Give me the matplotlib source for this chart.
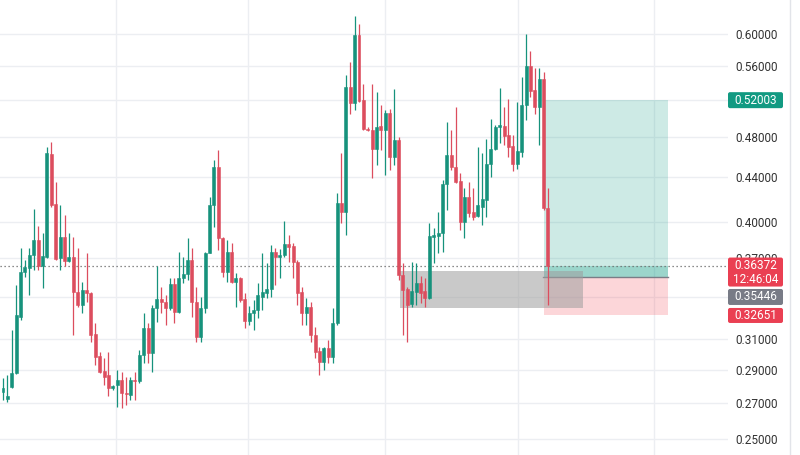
import numpy as np
import matplotlib.pyplot as plt
from matplotlib.patches import Rectangle, FancyBboxPatch
from matplotlib.lines import Line2D
from matplotlib.transforms import IdentityTransform
from matplotlib.ticker import FixedLocator, FuncFormatter, NullLocator

plt.rcParams['font.family'] = ['Roboto', 'DejaVu Sans']

# OHLC candles (oldest first)
opens = [0.2767, 0.2726, 0.2797, 0.2883, 0.3254, 0.3587, 0.3617, 0.3721, 0.3844, 0.3633,
         0.3705, 0.4629, 0.4155, 0.3697, 0.3868, 0.3673, 0.3705, 0.3435, 0.3340, 0.3450,
         0.3428, 0.3137, 0.2991, 0.2896, 0.2871, 0.2791, 0.2809, 0.2840, 0.2761, 0.2749,
         0.2840, 0.2834, 0.2998, 0.3178, 0.3011, 0.3318, 0.3383, 0.3361, 0.3318, 0.3495,
         0.3290, 0.3541, 0.3572, 0.3681, 0.3361, 0.3116, 0.3318, 0.3737, 0.4146, 0.4501,
         0.3860, 0.3587, 0.3745, 0.3510, 0.3541, 0.3383, 0.3226, 0.3282, 0.3304, 0.3398,
         0.3428, 0.3457, 0.3745, 0.3705, 0.3721, 0.3810, 0.3794, 0.3665, 0.3435, 0.3282,
         0.3326, 0.3130, 0.3024, 0.2952, 0.3043, 0.2985, 0.3212, 0.4164, 0.4084, 0.5351,
         0.5168, 0.5987, 0.5202, 0.4886, 0.4876, 0.4679, 0.4918, 0.4876, 0.5058, 0.4599,
         0.4771, 0.3564, 0.3457, 0.3347, 0.3435, 0.3502, 0.3443, 0.3391, 0.3868, 0.3877,
         0.3902, 0.4338, 0.4619, 0.4501, 0.4367, 0.3996, 0.4218, 0.4083, 0.4048, 0.4128,
         0.4191, 0.4530, 0.4679, 0.4908, 0.4918, 0.4823, 0.4710, 0.4530, 0.4649, 0.5146,
         0.5599, 0.5316, 0.5124, 0.5444, 0.4119]
highs = [0.2852, 0.2871, 0.3164, 0.3487, 0.3777, 0.3681, 0.3777, 0.4110, 0.3961, 0.3902,
         0.4700, 0.4751, 0.4357, 0.4146, 0.4057, 0.3902, 0.3868, 0.3777, 0.3510, 0.3737,
         0.3435, 0.3212, 0.3017, 0.2978, 0.3017, 0.2809, 0.2902, 0.2889, 0.2859, 0.2859,
         0.2889, 0.3030, 0.3282, 0.3212, 0.3340, 0.3633, 0.3472, 0.3413, 0.3541, 0.3541,
         0.3745, 0.3705, 0.3860, 0.3777, 0.3472, 0.3398, 0.3745, 0.4218, 0.4569, 0.4669,
         0.3868, 0.3844, 0.3819, 0.3579, 0.3549, 0.3428, 0.3333, 0.3376, 0.3502, 0.3737,
         0.3657, 0.3802, 0.3777, 0.3769, 0.4004, 0.3885, 0.3819, 0.3681, 0.3472, 0.3391,
         0.3361, 0.3184, 0.3050, 0.3050, 0.3096, 0.3318, 0.4254, 0.4639, 0.5491, 0.5648,
         0.6238, 0.6131, 0.5386, 0.4908, 0.5386, 0.5293, 0.5146, 0.5091, 0.5102, 0.5328,
         0.4802, 0.3657, 0.3472, 0.3665, 0.3657, 0.3556, 0.3541, 0.3987, 0.3945, 0.4083,
         0.4376, 0.4961, 0.4876, 0.5124, 0.4443, 0.4301, 0.4357, 0.4301, 0.4700, 0.4639,
         0.4781, 0.4993, 0.4929, 0.5339, 0.5124, 0.5213, 0.4823, 0.5180, 0.5467, 0.6000,
         0.5784, 0.5575, 0.5575, 0.5527, 0.4301]
lows = [0.2720, 0.2708, 0.2791, 0.2877, 0.3233, 0.3549, 0.3413, 0.3602, 0.3602, 0.3465,
        0.3697, 0.4128, 0.3681, 0.3602, 0.3633, 0.3665, 0.3130, 0.3326, 0.3282, 0.3361,
        0.3083, 0.2933, 0.2883, 0.2809, 0.2743, 0.2779, 0.2678, 0.2673, 0.2690, 0.2720,
        0.2720, 0.2821, 0.2946, 0.2946, 0.2889, 0.3219, 0.3282, 0.3198, 0.3304, 0.3212,
        0.3282, 0.3502, 0.3525, 0.3254, 0.3083, 0.3083, 0.3282, 0.3737, 0.3953, 0.3761,
        0.3549, 0.3510, 0.3502, 0.3326, 0.3361, 0.3178, 0.3198, 0.3164, 0.3247, 0.3304,
        0.3391, 0.3398, 0.3487, 0.3541, 0.3705, 0.3665, 0.3541, 0.3340, 0.3198, 0.3198,
        0.3083, 0.2978, 0.2871, 0.2902, 0.2946, 0.2946, 0.3198, 0.3987, 0.3885, 0.5047,
        0.5091, 0.5180, 0.4876, 0.4865, 0.4395, 0.4520, 0.4669, 0.4424, 0.4472, 0.4520,
        0.3525, 0.3130, 0.3083, 0.3326, 0.3340, 0.3354, 0.3326, 0.3383, 0.3657, 0.3737,
        0.3745, 0.4101, 0.4472, 0.4348, 0.3928, 0.3860, 0.4039, 0.4013, 0.4039, 0.3970,
        0.4039, 0.4405, 0.4669, 0.4740, 0.4720, 0.4599, 0.4462, 0.4482, 0.4599, 0.4982,
        0.5236, 0.5047, 0.4720, 0.4101, 0.3340]
closes = [0.2791, 0.2743, 0.2883, 0.3268, 0.3587, 0.3625, 0.3721, 0.3844, 0.3633, 0.3713,
          0.4639, 0.4146, 0.3689, 0.3868, 0.3673, 0.3705, 0.3435, 0.3340, 0.3450, 0.3428,
          0.3130, 0.2985, 0.2889, 0.2859, 0.2791, 0.2803, 0.2840, 0.2761, 0.2755, 0.2840,
          0.2834, 0.2998, 0.3178, 0.3011, 0.3318, 0.3383, 0.3361, 0.3318, 0.3495, 0.3290,
          0.3541, 0.3572, 0.3681, 0.3361, 0.3116, 0.3318, 0.3737, 0.4146, 0.4501, 0.3860,
          0.3587, 0.3745, 0.3510, 0.3541, 0.3376, 0.3226, 0.3282, 0.3304, 0.3413, 0.3435,
          0.3457, 0.3745, 0.3705, 0.3721, 0.3810, 0.3785, 0.3665, 0.3428, 0.3282, 0.3326,
          0.3130, 0.3017, 0.2952, 0.3043, 0.2985, 0.3212, 0.4164, 0.4084, 0.5351, 0.5168,
          0.5987, 0.5191, 0.4886, 0.4876, 0.4679, 0.4908, 0.4876, 0.5058, 0.4599, 0.4771,
          0.3564, 0.3450, 0.3340, 0.3443, 0.3502, 0.3428, 0.3391, 0.3877, 0.3885, 0.3902,
          0.4338, 0.4619, 0.4501, 0.4357, 0.3996, 0.4218, 0.4074, 0.4039, 0.4146, 0.4200,
          0.4530, 0.4679, 0.4908, 0.4929, 0.4813, 0.4700, 0.4530, 0.4659, 0.5146, 0.5599,
          0.5305, 0.5124, 0.5444, 0.4119, 0.36372]

# price scale ticks (0.65 sits just above the visible range, label cut at the top)
price_ticks = [0.25, 0.27, 0.29, 0.31, 0.34, 0.37, 0.40, 0.44, 0.48, 0.52, 0.56, 0.60]
top_tick = 0.65

# long position tool + grey zone
entry_price = 0.35446
target_price = 0.52003
stop_price = 0.32651
last_price = 0.36372
last_time = "12:46:04"
zone_top, zone_bottom = 0.3597, 0.3315

green = '#16927c'
red = '#dc4d5e'

fig = plt.figure(figsize=(8, 4.55), dpi=100)
ax = fig.add_axes([0, 0, 728 / 800, 1])
ax.set_yscale('log')
ax.set_ylim(0.24149, 0.64576)
ax.set_xlim(-0.683, 164.96)

o = np.array(opens)
c = np.array(closes)
x = np.arange(len(o))
colors = np.where(c >= o, green, red)

ax.vlines(x, lows, highs, colors=colors, lw=0.9, zorder=4)
bottoms = np.minimum(o, c)
tops = np.maximum(o, c)
ax.bar(x, tops - bottoms, bottom=bottoms, width=0.68, color=colors,
       edgecolor=colors, linewidth=0.4, zorder=5)

# position tool
pos_x0, pos_x1 = 123, 151.2
ax.add_patch(Rectangle((pos_x0, entry_price), pos_x1 - pos_x0, target_price - entry_price,
                       facecolor='#089981', alpha=0.2, lw=0, zorder=2))
ax.add_patch(Rectangle((pos_x0, stop_price), pos_x1 - pos_x0, entry_price - stop_price,
                       facecolor='#f23645', alpha=0.2, lw=0, zorder=2))
ax.add_patch(Rectangle((pos_x0, entry_price), pos_x1 - pos_x0, last_price - entry_price,
                       facecolor='#089981', alpha=0.25, lw=0, zorder=2.1))
ax.plot([pos_x0 - 0.2, pos_x1], [entry_price, entry_price], color='#7a7d86', lw=1, zorder=3)

# grey rectangle drawing
ax.add_patch(Rectangle((90.3, zone_bottom), 132.0 - 90.3, zone_top - zone_bottom,
                       facecolor='#9e9e9e', alpha=0.55, lw=0, zorder=3))

# last price dotted line
ax.axhline(last_price, color='#666666', lw=0.9, ls=(0, (1, 2.2)), zorder=3.5)

# grid + axis
ax.yaxis.set_major_locator(FixedLocator(price_ticks))
ax.yaxis.set_minor_locator(NullLocator())
ax.yaxis.set_major_formatter(FuncFormatter(lambda v, p: f'{v:.5f}'))
ax.yaxis.tick_right()
ax.set_xticks([25.7, 55.7, 86.9, 117.2, 148.1])
ax.tick_params(axis='x', length=0, labelbottom=False)
ax.tick_params(axis='y', length=0, pad=5.5, labelsize=8.5, labelcolor='#333333')
ax.grid(True, color='#eceef2', lw=1, zorder=0)
ax.set_axisbelow(True)
for s in ax.spines.values():
    s.set_visible(False)

fig.add_artist(Line2D([790 / 800, 790 / 800], [0, 1], color='#e2e4e9', lw=1))

ident = IdentityTransform()

# cut-off label of the tick above the top edge
y_top = ax.transData.transform((0, top_tick))[1]
fig.text(735.6, y_top, f'{top_tick:.5f}', transform=ident, ha='left', va='center',
         color='#333333', fontsize=8.5)


# price badges on the scale (pixel coords)
def badge(price, lines, color, up=8, down=8, shift=0):
    yc = ax.transData.transform((0, price))[1] - shift
    fig.add_artist(FancyBboxPatch((728, yc - down), 55, up + down,
                                  boxstyle='round,pad=0,rounding_size=2',
                                  facecolor=color, edgecolor='none',
                                  transform=ident, zorder=5))
    for i, t in enumerate(lines):
        fig.text(755.5, yc - 14 * i, t, transform=ident, ha='center', va='center',
                 color='white', fontsize=8.5, zorder=6)


badge(target_price, ['0.52003'], '#129a82')
badge(last_price, ['0.36372', last_time], '#ea3f52', up=8, down=21)
badge(entry_price, ['0.35446'], '#787b86', shift=19.5)
badge(stop_price, ['0.32651'], '#ea3f52', up=7.5, down=7.5)

fig.savefig('out.png')
